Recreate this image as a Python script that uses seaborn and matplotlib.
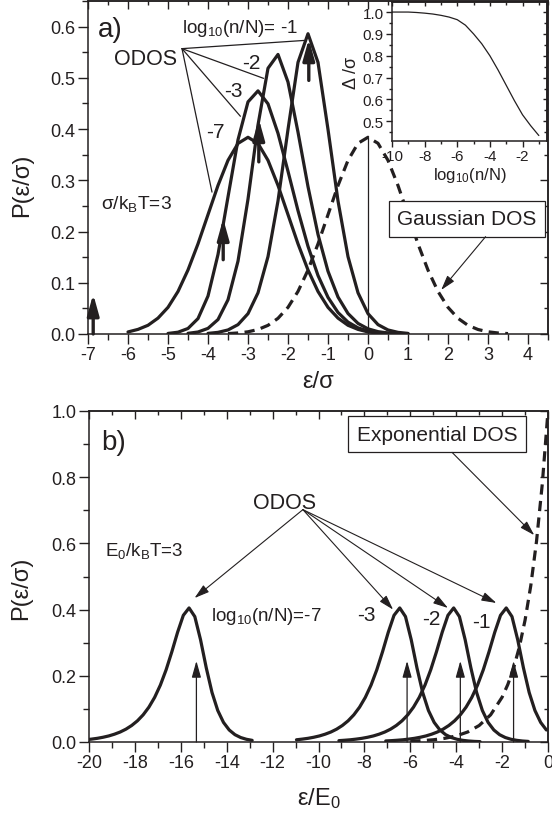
import matplotlib
matplotlib.use('Agg')
import numpy as np
import matplotlib.pyplot as plt
import seaborn as sns
from matplotlib.ticker import MultipleLocator, FormatStrFormatter
from matplotlib.patches import ArrowStyle

sns.set_theme(style='ticks')
plt.rcParams['font.family'] = ['Liberation Sans', 'DejaVu Sans']
plt.rcParams['mathtext.default'] = 'regular'
plt.rcParams['axes.unicode_minus'] = False

C = '#231f20'

# ---------------- panel a data (epsilon/sigma) ----------------
x_odos7_a = [-6.0, -5.75, -5.5, -5.25, -5.0, -4.75, -4.5, -4.25, -4.0, -3.75, -3.5, -3.25, -3.0,
             -2.75, -2.5, -2.25, -2.0, -1.75, -1.5, -1.25, -1.0, -0.75, -0.5, -0.25, 0.0, 0.25, 0.5, 0.75, 1.0]
p_odos7_a = [0.004, 0.009, 0.017, 0.031, 0.052, 0.083, 0.125, 0.176, 0.233, 0.290, 0.339, 0.372, 0.384,
             0.372, 0.339, 0.290, 0.233, 0.176, 0.125, 0.083, 0.052, 0.031, 0.017, 0.009, 0.004, 0.002, 0.001, 0.0005, 0.0002]
x_odos3_a = [-5.0, -4.75, -4.5, -4.25, -4.0, -3.75, -3.5, -3.25, -3.0, -2.75, -2.5, -2.25, -2.0,
             -1.75, -1.5, -1.25, -1.0, -0.75, -0.5, -0.25, 0.0, 0.25, 0.5, 0.75, 1.0]
p_odos3_a = [0.0011, 0.0035, 0.0108, 0.0301, 0.0741, 0.1552, 0.2676, 0.3791, 0.4531, 0.4746, 0.4493, 0.3917, 0.3176,
             0.2408, 0.1711, 0.1142, 0.0715, 0.0420, 0.0232, 0.0120, 0.0059, 0.0027, 0.0012, 0.0005, 0.0002]
x_odos2_a = [-4.5, -4.25, -4.0, -3.75, -3.5, -3.25, -3.0, -2.75, -2.5, -2.25, -2.0, -1.75,
             -1.5, -1.25, -1.0, -0.75, -0.5, -0.25, 0.0, 0.25, 0.5, 0.75, 1.0]
p_odos2_a = [0.0013, 0.0039, 0.0110, 0.0282, 0.0668, 0.1422, 0.2632, 0.4081, 0.5187, 0.5457, 0.4918, 0.3940,
             0.2877, 0.1944, 0.1225, 0.0722, 0.0400, 0.0207, 0.0101, 0.0046, 0.0020, 0.0008, 0.0003]
x_odos1_a = [-4.0, -3.75, -3.5, -3.25, -3.0, -2.75, -2.5, -2.25, -2.0, -1.75, -1.5,
             -1.25, -1.0, -0.75, -0.5, -0.25, 0.0, 0.25, 0.5, 0.75, 1.0]
p_odos1_a = [0.0012, 0.0032, 0.0079, 0.0183, 0.0397, 0.0804, 0.1511, 0.2598, 0.3993, 0.5303, 0.5861,
             0.5302, 0.3994, 0.2597, 0.1510, 0.0805, 0.0397, 0.0183, 0.0079, 0.0032, 0.0012]
x_gauss = [-3.5, -3.25, -3.0, -2.75, -2.5, -2.25, -2.0, -1.75, -1.5, -1.25, -1.0, -0.75, -0.5, -0.25, 0.0,
           0.25, 0.5, 0.75, 1.0, 1.25, 1.5, 1.75, 2.0, 2.25, 2.5, 2.75, 3.0, 3.25, 3.5]
p_gauss = [0.0008, 0.0020, 0.0043, 0.0088, 0.0169, 0.0306, 0.0520, 0.0831, 0.1247, 0.1758, 0.2329, 0.2898, 0.3389, 0.3722, 0.384,
           0.3722, 0.3389, 0.2898, 0.2329, 0.1758, 0.1247, 0.0831, 0.0520, 0.0306, 0.0169, 0.0088, 0.0043, 0.0020, 0.0008]
# Fermi-level arrows (panel a)
ef_a_x = [-6.87, -3.62, -2.73, -1.48]
ef_a_y0 = [0.0, 0.145, 0.336, 0.495]
ef_a_y1 = [0.078, 0.225, 0.420, 0.576]

# inset
inset_logn = [-10, -9.5, -9, -8.5, -8, -7.5, -7, -6.5, -6, -5.5, -5, -4.5, -4, -3.5, -3, -2.5, -2, -1.5, -1]
inset_delta = [1.0, 1.0, 1.0, 0.998, 0.995, 0.991, 0.985, 0.977, 0.965, 0.94, 0.90, 0.855, 0.80,
               0.735, 0.665, 0.595, 0.53, 0.48, 0.435]

# ---------------- panel b data (epsilon/E0) ----------------
odos_b_offset = [-5.25, -5.0, -4.75, -4.5, -4.25, -4.0, -3.75, -3.5, -3.25, -3.0, -2.75, -2.5, -2.25, -2.0,
                 -1.75, -1.5, -1.25, -1.0, -0.75, -0.5, -0.25, 0.0, 0.25, 0.5, 0.75, 1.0, 1.25, 1.5, 1.75,
                 2.0, 2.25, 2.5, 2.75, 3.0, 3.25, 3.5]
odos_b_profile = [0.0032, 0.0041, 0.0053, 0.0067, 0.0087, 0.0111, 0.0143, 0.0183, 0.0236, 0.0302, 0.0388, 0.0499,
                  0.0640, 0.0821, 0.1053, 0.1348, 0.1720, 0.2181, 0.2726, 0.3315, 0.3827, 0.405, 0.3789, 0.3090,
                  0.2239, 0.1495, 0.0953, 0.0592, 0.0363, 0.0221, 0.0135, 0.0082, 0.0050, 0.0030, 0.0018, 0.0011]
odos_b_peak = [-15.64, -6.46, -4.11, -1.82]
odos_b_start = [-20.0, -11.0, -9.0, -7.0]
odos_b_end = [-13.0, -3.0, -1.0, 0.0]
ef_b_x = [-15.32, -6.14, -3.82, -1.50]
ef_b_top = 0.245
x_expdos = [-6.0, -5.5, -5.0, -4.5, -4.0, -3.5, -3.0, -2.5, -2.0, -1.75, -1.5, -1.25, -1.0, -0.75, -0.5, -0.25, 0.0]
p_expdos = [0.0025, 0.0041, 0.0067, 0.0111, 0.0183, 0.0302, 0.0498, 0.0821, 0.1353, 0.1738, 0.2231, 0.2865,
            0.3679, 0.4724, 0.6065, 0.7788, 1.0]

# ---------------- figure ----------------
W, H = 552, 820
fig = plt.figure(figsize=(W / 100, H / 100), dpi=100)
axa = fig.add_axes([88 / W, 1 - 335 / H, 460 / W, 333 / H])
axb = fig.add_axes([89 / W, 1 - 743 / H, 459 / W, 331 / H])

LW = 2.3
TICK_FS = 13


def style_axes(ax, xmaj, xmin, ymaj, ymin, yfmt, fs=TICK_FS, L=6, l=3.5):
    ax.xaxis.set_major_locator(MultipleLocator(xmaj))
    ax.xaxis.set_minor_locator(MultipleLocator(xmin))
    ax.yaxis.set_major_locator(MultipleLocator(ymaj))
    ax.yaxis.set_minor_locator(MultipleLocator(ymin))
    ax.yaxis.set_major_formatter(FormatStrFormatter(yfmt))
    ax.xaxis.set_major_formatter(FormatStrFormatter('%g'))
    ax.tick_params(which='major', direction='out', length=L, width=1.0, labelsize=fs, colors=C, pad=2)
    ax.tick_params(which='minor', direction='out', length=l, width=1.0, colors=C)
    for s in ax.spines.values():
        s.set_visible(True)
        s.set_linewidth(1.1)
        s.set_color(C)
    sx = ax.secondary_xaxis('top')
    sx.xaxis.set_major_locator(MultipleLocator(xmaj))
    sx.xaxis.set_minor_locator(MultipleLocator(xmin))
    sx.tick_params(which='major', direction='in', length=L * 0.8, width=1.0, labeltop=False, colors=C)
    sx.tick_params(which='minor', direction='in', length=l * 0.8, width=1.0, colors=C)
    sx.spines['top'].set_linewidth(1.1)
    sy = ax.secondary_yaxis('right')
    sy.yaxis.set_major_locator(MultipleLocator(ymaj))
    sy.yaxis.set_minor_locator(MultipleLocator(ymin))
    sy.tick_params(which='major', direction='in', length=L * 0.8, width=1.0, labelright=False, colors=C)
    sy.tick_params(which='minor', direction='in', length=l * 0.8, width=1.0, colors=C)
    sy.spines['right'].set_linewidth(1.1)


def arrow(ax, x0, y0, x1, y1, lw, ms, hl=0.8, hw=0.22):
    ax.annotate('', xy=(x1, y1), xytext=(x0, y0),
                arrowprops=dict(arrowstyle=ArrowStyle('-|>', head_length=hl, head_width=hw),
                                lw=lw, color=C, mutation_scale=ms, shrinkA=0, shrinkB=0))


DASH = (0, (3.2, 2.0))

# ---- panel a ----
for xs, ps in [(x_odos7_a, p_odos7_a), (x_odos3_a, p_odos3_a), (x_odos2_a, p_odos2_a), (x_odos1_a, p_odos1_a)]:
    sns.lineplot(x=xs, y=ps, ax=axa, color=C, linewidth=LW)
sns.lineplot(x=x_gauss, y=p_gauss, ax=axa, color=C, linewidth=LW, linestyle=DASH)
axa.plot([0, 0], [0, max(p_gauss)], color=C, lw=0.9)
for x, y0, y1 in zip(ef_a_x, ef_a_y0, ef_a_y1):
    arrow(axa, x, y0, x, y1, 2.4, 14, hl=0.9, hw=0.25)

axa.set_xlim(-7, 4.5)
axa.set_ylim(0, 0.65)
style_axes(axa, 1, 0.5, 0.1, 0.05, '%.1f', L=7, l=4)
axa.set_xlabel('ε/σ', fontsize=17, color=C, labelpad=5)
axa.set_ylabel('')

axa.text(-6.75, 0.596, 'a)', fontsize=20, color=C, va='center', ha='left')
axa.text(-4.65, 0.598, 'log$_{10}$(n/N)= -1', fontsize=13.5, color=C, va='center', ha='left')
axa.text(-4.78, 0.538, 'ODOS', fontsize=15.5, color=C, va='center', ha='right')
odos_origin = (-4.65, 0.557)
for tx, ty in [(-1.60, 0.573), (-2.61, 0.499), (-3.19, 0.425), (-3.90, 0.277)]:
    axa.plot([odos_origin[0], tx], [odos_origin[1], ty], color=C, lw=0.9)
axa.text(-2.92, 0.529, '-2', fontsize=15, color=C, va='center', ha='center')
axa.text(-3.37, 0.476, '-3', fontsize=15, color=C, va='center', ha='center')
axa.text(-3.82, 0.395, '-7', fontsize=15, color=C, va='center', ha='center')
axa.text(-6.68, 0.256, 'σ/k$_B$T=3', fontsize=13.8, color=C, va='center', ha='left')
axa.text(2.47, 0.225, 'Gaussian DOS', fontsize=15, color=C, va='center', ha='center',
         bbox=dict(boxstyle='square,pad=0.4', fc='white', ec=C, lw=0.9))
arrow(axa, 2.94, 0.190, 1.83, 0.086, 0.8, 9, hl=1.0, hw=0.3)

# inset
axi = fig.add_axes([392 / W, 1 - 142 / H, 155 / W, 139 / H])
axi.set_facecolor('white')
sns.lineplot(x=inset_logn, y=inset_delta, ax=axi, color=C, linewidth=0.9)
axi.set_xlim(-10, -0.5)
axi.set_ylim(0.41, 1.046)
style_axes(axi, 2, 1, 0.1, 0.05, '%.1f', fs=11, L=4, l=2.5)
axi.set_xlabel('log$_{10}$(n/N)', fontsize=12, color=C, labelpad=1)
axi.set_ylabel('Δ /σ', fontsize=13, color=C, labelpad=2)

# ---- panel b ----
for pk, st, en in zip(odos_b_peak, odos_b_start, odos_b_end):
    xs = [pk + s for s in odos_b_offset if st - 0.15 <= pk + s <= en + 0.15]
    ps = [p for s, p in zip(odos_b_offset, odos_b_profile) if st - 0.15 <= pk + s <= en + 0.15]
    sns.lineplot(x=xs, y=ps, ax=axb, color=C, linewidth=LW)
sns.lineplot(x=x_expdos, y=p_expdos, ax=axb, color=C, linewidth=LW, linestyle=DASH)
for x in ef_b_x:
    arrow(axb, x, 0.0, x, ef_b_top, 0.9, 10, hl=1.0, hw=0.28)

axb.set_xlim(-20, 0)
axb.set_ylim(0, 1.0)
style_axes(axb, 2, 1, 0.2, 0.1, '%.1f', L=7, l=4)
axb.set_xlabel('ε/E$_0$', fontsize=17, color=C, labelpad=10)
axb.set_ylabel('')

axb.text(-19.45, 0.905, 'b)', fontsize=20, color=C, va='center', ha='left')
axb.text(-4.84, 0.93, 'Exponential DOS', fontsize=15, color=C, va='center', ha='center',
         bbox=dict(boxstyle='square,pad=0.4', fc='white', ec=C, lw=0.9))
arrow(axb, -4.18, 0.875, -0.6, 0.625, 0.8, 9, hl=1.0, hw=0.3)
axb.text(-11.46, 0.725, 'ODOS', fontsize=15.5, color=C, va='center', ha='center')
for tx, ty in [(-15.4, 0.435), (-6.75, 0.40), (-4.36, 0.405), (-2.25, 0.42)]:
    arrow(axb, -10.68, 0.702, tx, ty, 0.8, 9, hl=1.0, hw=0.3)
axb.text(-14.7, 0.383, 'log$_{10}$(n/N)=-7', fontsize=13.5, color=C, va='center', ha='left')
axb.text(-7.9, 0.385, '-3', fontsize=15, color=C, va='center', ha='center')
axb.text(-5.1, 0.372, '-2', fontsize=15, color=C, va='center', ha='center')
axb.text(-2.9, 0.365, '-1', fontsize=15, color=C, va='center', ha='center')
axb.text(-19.3, 0.58, 'E$_0$/k$_B$T=3', fontsize=13.5, color=C, va='center', ha='left')

# y labels
fig.text(22 / W, 1 - 185 / H, 'P(ε/σ)', rotation=90, fontsize=17, color=C, va='center', ha='center')
fig.text(21 / W, 1 - 588 / H, 'P(ε/σ)', rotation=90, fontsize=17, color=C, va='center', ha='center')

fig.savefig('out.png', dpi=100)
